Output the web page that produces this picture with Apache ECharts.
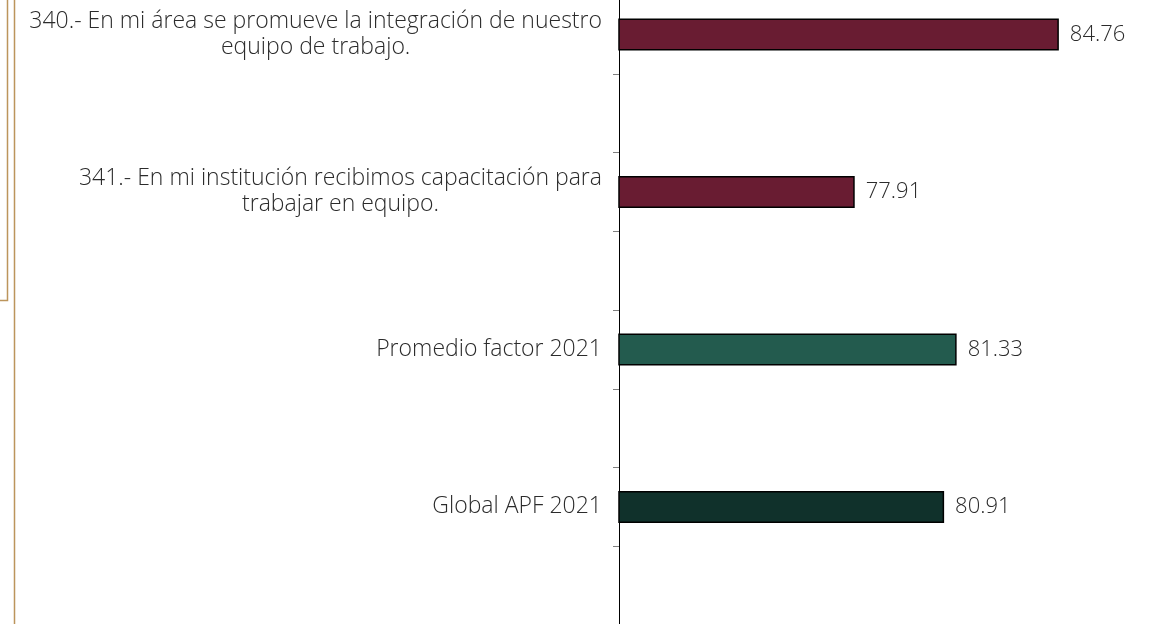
<!DOCTYPE html>
<html>
<head>
<meta charset="utf-8">
<script src="https://cdn.jsdelivr.net/npm/echarts@6/dist/echarts.min.js"></script>
<style>
  html, body { margin: 0; padding: 0; background: #fff; }
  #main { width: 1158px; height: 624px; }
</style>
</head>
<body>
<div id="main"></div>
<script>
// reactivos y promedios (de arriba hacia abajo)
var categories = [
  '340.- En mi área se promueve la integración de nuestro\nequipo de trabajo.',
  '341.- En mi institución recibimos capacitación para\ntrabajar en equipo.',
  'Promedio factor 2021',
  'Global APF 2021'
];
var values = [84.76, 77.91, 81.33, 80.91];
var barColors = ['#691C32', '#691C32', '#235B4E', '#10312B'];

// cada barra va seguida de un renglon vacio
var axisData = [];
var seriesData = [];
for (var i = 0; i < categories.length; i++) {
  axisData.push(categories[i]);
  seriesData.push({ value: values[i], itemStyle: { color: barColors[i] } });
  axisData.push('gap' + i);
  seriesData.push(null);
}

var myChart = echarts.init(document.getElementById('main'), null, { renderer: 'canvas' });
var font = '"Open Sans", "Noto Sans", sans-serif';

myChart.setOption({
  animation: false,
  grid: { left: 619, top: -5, width: 596, height: 630, outerBoundsMode: 'none', containLabel: false },
  xAxis: {
    type: 'value',
    min: 70,
    max: 90,
    show: false,
    splitLine: { show: false }
  },
  yAxis: {
    type: 'category',
    inverse: true,
    data: axisData,
    axisLine: { show: true, lineStyle: { color: '#000', width: 1 } },
    axisTick: { show: true, interval: 0, length: 6, lineStyle: { color: '#7f7f7f', width: 1 } },
    axisLabel: {
      margin: 17,
      interval: 0,
      formatter: function (v) {
        if (v.indexOf('gap') === 0) return '';
        return v.split('\n').map(function (l) { return '{c|' + l + '}'; }).join('\n');
      },
      rich: {
        c: { align: 'center', fontFamily: font, fontSize: 23, fontWeight: 300, color: '#2b2b2b', lineHeight: 26 }
      }
    }
  },
  series: [{
    type: 'bar',
    data: seriesData,
    barWidth: 32,
    itemStyle: { borderColor: '#000', borderWidth: 1.5 },
    label: {
      show: true,
      position: 'right',
      distance: 11,
      fontFamily: font,
      fontSize: 22,
      fontWeight: 300,
      color: '#2b2b2b',
      formatter: function (p) { return p.value.toFixed(2); }
    }
  }],
  graphic: [
    { type: 'polyline', shape: { points: [[7.5, 0], [7.5, 300.5], [0, 300.5]] }, style: { stroke: '#BC955C', lineWidth: 1.5, fill: null } },
    { type: 'line', shape: { x1: 14.5, y1: 0, x2: 14.5, y2: 624 }, style: { stroke: '#BC955C', lineWidth: 1.5 } }
  ]
});
</script>
</body>
</html>
